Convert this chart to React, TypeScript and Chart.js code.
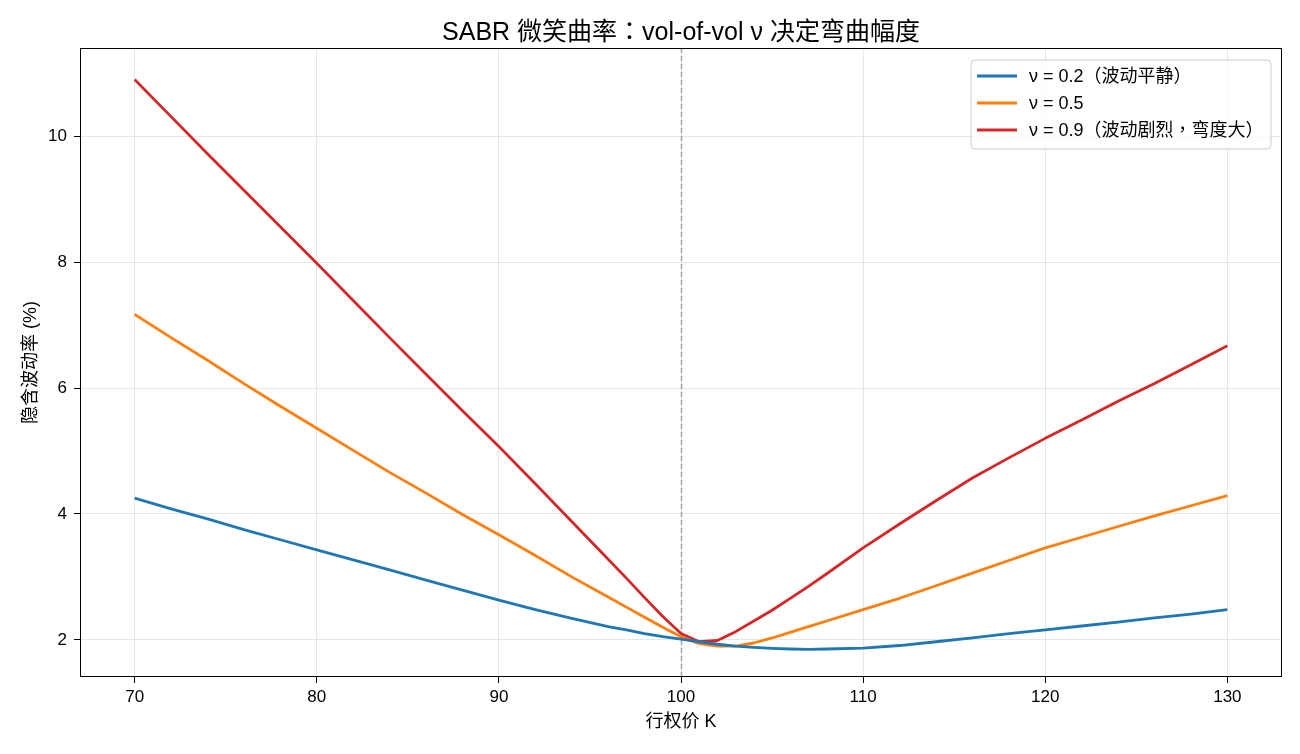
import React, { useEffect, useRef } from "react";
import { Chart, registerables } from "chart.js";

Chart.register(...registerables);

const FONT = "'Liberation Sans', Arial, 'Noto Sans CJK TC', 'Noto Sans CJK SC', sans-serif";

const TITLE = "SABR 微笑曲率：vol-of-vol ν 决定弯曲幅度";
const X_LABEL = "行权价 K";
const Y_LABEL = "隐含波动率 (%)";
const ATM_STRIKE = 100;

const strikes = [70, 72, 74, 76, 78, 80, 82, 84, 86, 88, 90, 92, 94, 96, 97, 98, 99, 100, 101, 102, 103, 104, 105, 106, 107, 108, 110, 112, 114, 116, 118, 120, 122, 124, 126, 128, 130];

const volLow = [4.25, 4.08, 3.92, 3.75, 3.59, 3.43, 3.27, 3.11, 2.95, 2.79, 2.63, 2.48, 2.34, 2.21, 2.16, 2.10, 2.05, 2.01, 1.97, 1.93, 1.90, 1.88, 1.865, 1.855, 1.85, 1.855, 1.87, 1.91, 1.97, 2.03, 2.10, 2.16, 2.22, 2.28, 2.35, 2.41, 2.48];

const volMid = [7.17, 6.80, 6.44, 6.07, 5.71, 5.36, 5.01, 4.66, 4.33, 3.99, 3.67, 3.34, 3.00, 2.68, 2.52, 2.36, 2.20, 2.05, 1.94, 1.90, 1.90, 1.95, 2.03, 2.12, 2.21, 2.30, 2.48, 2.66, 2.86, 3.06, 3.26, 3.46, 3.63, 3.80, 3.97, 4.13, 4.29];

const volHigh = [10.90, 10.31, 9.72, 9.14, 8.56, 7.98, 7.39, 6.80, 6.22, 5.64, 5.07, 4.48, 3.88, 3.28, 2.98, 2.67, 2.37, 2.10, 1.97, 1.99, 2.13, 2.30, 2.47, 2.66, 2.85, 3.05, 3.46, 3.84, 4.21, 4.57, 4.89, 5.20, 5.49, 5.79, 6.07, 6.37, 6.67];

const seriesLabels = ["ν = 0.2（波动平静）", "ν = 0.5", "ν = 0.9（波动剧烈，弯度大）"];
const seriesColors = ["#1f77b4", "#ff7f0e", "#d62728"];
const xTicks = [70, 80, 90, 100, 110, 120, 130];
const yTicks = [2, 4, 6, 8, 10];

export default function App() {
  const ref = useRef<HTMLCanvasElement | null>(null);

  useEffect(() => {
    document.body.style.margin = "0";
    const canvas = ref.current;
    if (!canvas) return;
    const all = [volLow, volMid, volHigh];

    const decor = {
      id: "decor",
      beforeDatasetsDraw(chart: any) {
        const { ctx, chartArea, scales } = chart;
        const x = Math.round(scales.x.getPixelForValue(ATM_STRIKE)) + 0.5;
        ctx.save();
        ctx.strokeStyle = "rgba(128,128,128,0.65)";
        ctx.lineWidth = 1.5;
        ctx.setLineDash([5, 3]);
        ctx.beginPath();
        ctx.moveTo(x, chartArea.top);
        ctx.lineTo(x, chartArea.bottom);
        ctx.stroke();
        ctx.restore();
      },
      afterDraw(chart: any) {
        const { ctx, chartArea } = chart;
        const { left, right, top, bottom } = chartArea;
        ctx.save();
        ctx.strokeStyle = "#000";
        ctx.lineWidth = 1;
        ctx.setLineDash([]);
        ctx.strokeRect(Math.round(left) + 0.5, Math.round(top) + 0.5, Math.round(right - left) - 1, Math.round(bottom - top) - 1);
        ctx.fillStyle = "#000";
        ctx.textAlign = "center";
        ctx.textBaseline = "middle";
        ctx.font = `25px ${FONT}`;
        ctx.fillText(TITLE, (left + right) / 2, 33);
        ctx.font = `18px ${FONT}`;
        ctx.fillText(X_LABEL, (left + right) / 2, 722);
        ctx.save();
        ctx.translate(31, (top + bottom) / 2);
        ctx.rotate(-Math.PI / 2);
        ctx.fillText(Y_LABEL, 0, 0);
        ctx.restore();
        const bx = 971, by = 60, bw = 300, bh = 89, r = 4;
        ctx.beginPath();
        ctx.moveTo(bx + r, by);
        ctx.arcTo(bx + bw, by, bx + bw, by + bh, r);
        ctx.arcTo(bx + bw, by + bh, bx, by + bh, r);
        ctx.arcTo(bx, by + bh, bx, by, r);
        ctx.arcTo(bx, by, bx + bw, by, r);
        ctx.closePath();
        ctx.fillStyle = "rgba(255,255,255,0.8)";
        ctx.fill();
        ctx.strokeStyle = "#cccccc";
        ctx.lineWidth = 1;
        ctx.stroke();
        ctx.font = `18px ${FONT}`;
        ctx.textAlign = "left";
        const rows = [76, 103, 130];
        seriesLabels.forEach((lab, i) => {
          ctx.strokeStyle = seriesColors[i];
          ctx.lineWidth = 2.8;
          ctx.beginPath();
          ctx.moveTo(977, rows[i]);
          ctx.lineTo(1017, rows[i]);
          ctx.stroke();
          ctx.fillStyle = "#000";
          ctx.fillText(lab, 1029, rows[i] + 1);
        });
        ctx.restore();
      },
    };

    const chart = new Chart(canvas, {
      type: "line",
      data: {
        datasets: all.map((vals, i) => ({
          label: seriesLabels[i],
          data: strikes.map((k, j) => ({ x: k, y: vals[j] })),
          borderColor: seriesColors[i],
          backgroundColor: seriesColors[i],
          borderWidth: 2.8,
          pointRadius: 0,
          tension: 0,
          fill: false,
          borderJoinStyle: "round" as const,
          borderCapStyle: "butt" as const,
        })),
      },
      options: {
        animation: false,
        responsive: false,
        maintainAspectRatio: false,
        layout: { padding: { left: 0, right: 18, top: 48, bottom: 0 } },
        plugins: {
          legend: { display: false },
          title: { display: false },
          tooltip: { enabled: false },
        },
        scales: {
          x: {
            type: "linear",
            min: 67,
            max: 133,
            afterBuildTicks: (s: any) => {
              s.ticks = xTicks.map((v) => ({ value: v }));
            },
            afterFit: (s: any) => {
              s.height = 77;
            },
            grid: {
              color: "rgba(176,176,176,0.3)",
              lineWidth: 1,
              tickColor: "#000",
              tickLength: 6,
            },
            border: { display: false },
            ticks: {
              color: "#000",
              font: { family: FONT, size: 17 },
              padding: 4,
              maxRotation: 0,
              callback: (v: any) => String(v),
            },
          },
          y: {
            type: "linear",
            min: 1.41,
            max: 11.4,
            afterBuildTicks: (s: any) => {
              s.ticks = yTicks.map((v) => ({ value: v }));
            },
            afterFit: (s: any) => {
              s.width = 80;
            },
            grid: {
              color: "rgba(176,176,176,0.3)",
              lineWidth: 1,
              tickColor: "#000",
              tickLength: 6,
            },
            border: { display: false },
            ticks: {
              color: "#000",
              font: { family: FONT, size: 17 },
              padding: 7,
              callback: (v: any) => String(v),
            },
          },
        },
      },
      plugins: [decor],
    });
    return () => chart.destroy();
  }, []);

  return (
    <div style={{ width: 1300, height: 754, background: "#fff" }}>
      <canvas ref={ref} width={1300} height={754} style={{ display: "block" }} />
    </div>
  );
}
